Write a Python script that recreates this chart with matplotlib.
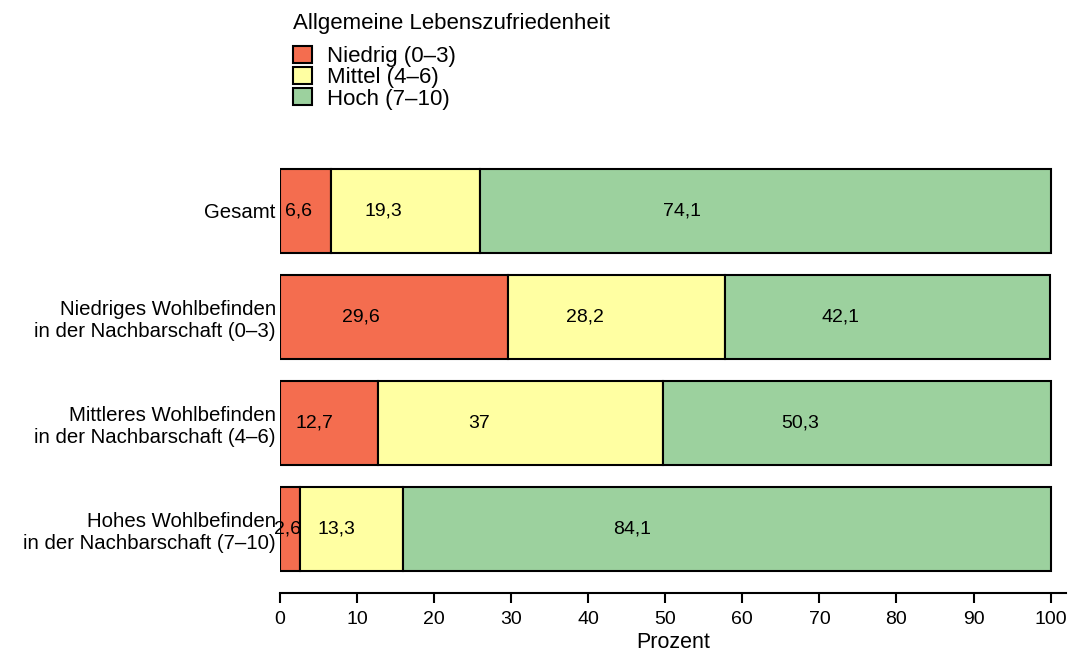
import numpy as np
import matplotlib.pyplot as plt
from matplotlib.patches import Patch

plt.rcParams['font.family'] = ['Liberation Sans', 'DejaVu Sans']

groups = ["Gesamt",
          "Niedriges Wohlbefinden\nin der Nachbarschaft (0–3)",
          "Mittleres Wohlbefinden\nin der Nachbarschaft (4–6)",
          "Hohes Wohlbefinden\nin der Nachbarschaft (7–10)"]
niedrig = [6.6, 29.6, 12.7, 2.6]
mittel = [19.3, 28.2, 37.0, 13.3]
hoch = [74.1, 42.1, 50.3, 84.1]
series_labels = ["Niedrig (0–3)", "Mittel (4–6)", "Hoch (7–10)"]
colors = ["#F46D4F", "#FFFFA2", "#9CD19E"]

# labels sit a bit left of the segment middle in the original
label_frac = 0.355

def fmt(v):
    s = f"{v:.1f}".replace(".", ",")
    return s[:-2] if s.endswith(",0") else s

fig = plt.figure(figsize=(10.7, 6.55), dpi=100)
ax = fig.add_axes([280/1070, 1 - 593/655, 786/1070, 430/655])

y = np.arange(len(groups))
left = np.zeros(len(groups))
for vals, col in zip([niedrig, mittel, hoch], colors):
    vals = np.array(vals)
    ax.barh(y, vals, left=left, height=0.79, color=col, edgecolor="black", linewidth=1.5)
    for yi, l, v in zip(y, left, vals):
        ax.text(l + v * label_frac, yi, fmt(v), ha="center", va="center", fontsize=14)
    left = left + vals

ax.set_xlim(0, 102)
ax.set_ylim(3.6, -0.45)
ax.set_yticks(y)
ax.set_yticklabels(groups, fontsize=14.7)
ax.tick_params(axis="y", length=0, pad=3)
ax.set_xticks(np.arange(0, 101, 10))
ax.tick_params(axis="x", labelsize=14, width=1.5, length=7, pad=6)
for s in ["top", "right", "left"]:
    ax.spines[s].set_visible(False)
ax.spines["bottom"].set_linewidth(1.5)
ax.set_xlabel("Prozent", fontsize=15.5, labelpad=3)

# legend: title as separate text, entries packed tightly below
fig.text(293/1070, 1 - 24/655, "Allgemeine Lebenszufriedenheit",
         fontsize=16, ha="left", va="center")
handles = [Patch(facecolor=c, edgecolor="black", linewidth=1.5) for c in colors]
leg = fig.legend(handles, series_labels,
                 loc="upper left", bbox_to_anchor=(293/1070, 1 - 46/655),
                 frameon=False, fontsize=16,
                 labelspacing=0.0, handlelength=0.85, handleheight=0.8,
                 handletextpad=0.7, borderaxespad=0, borderpad=0)

fig.savefig("out.png", dpi=100)
